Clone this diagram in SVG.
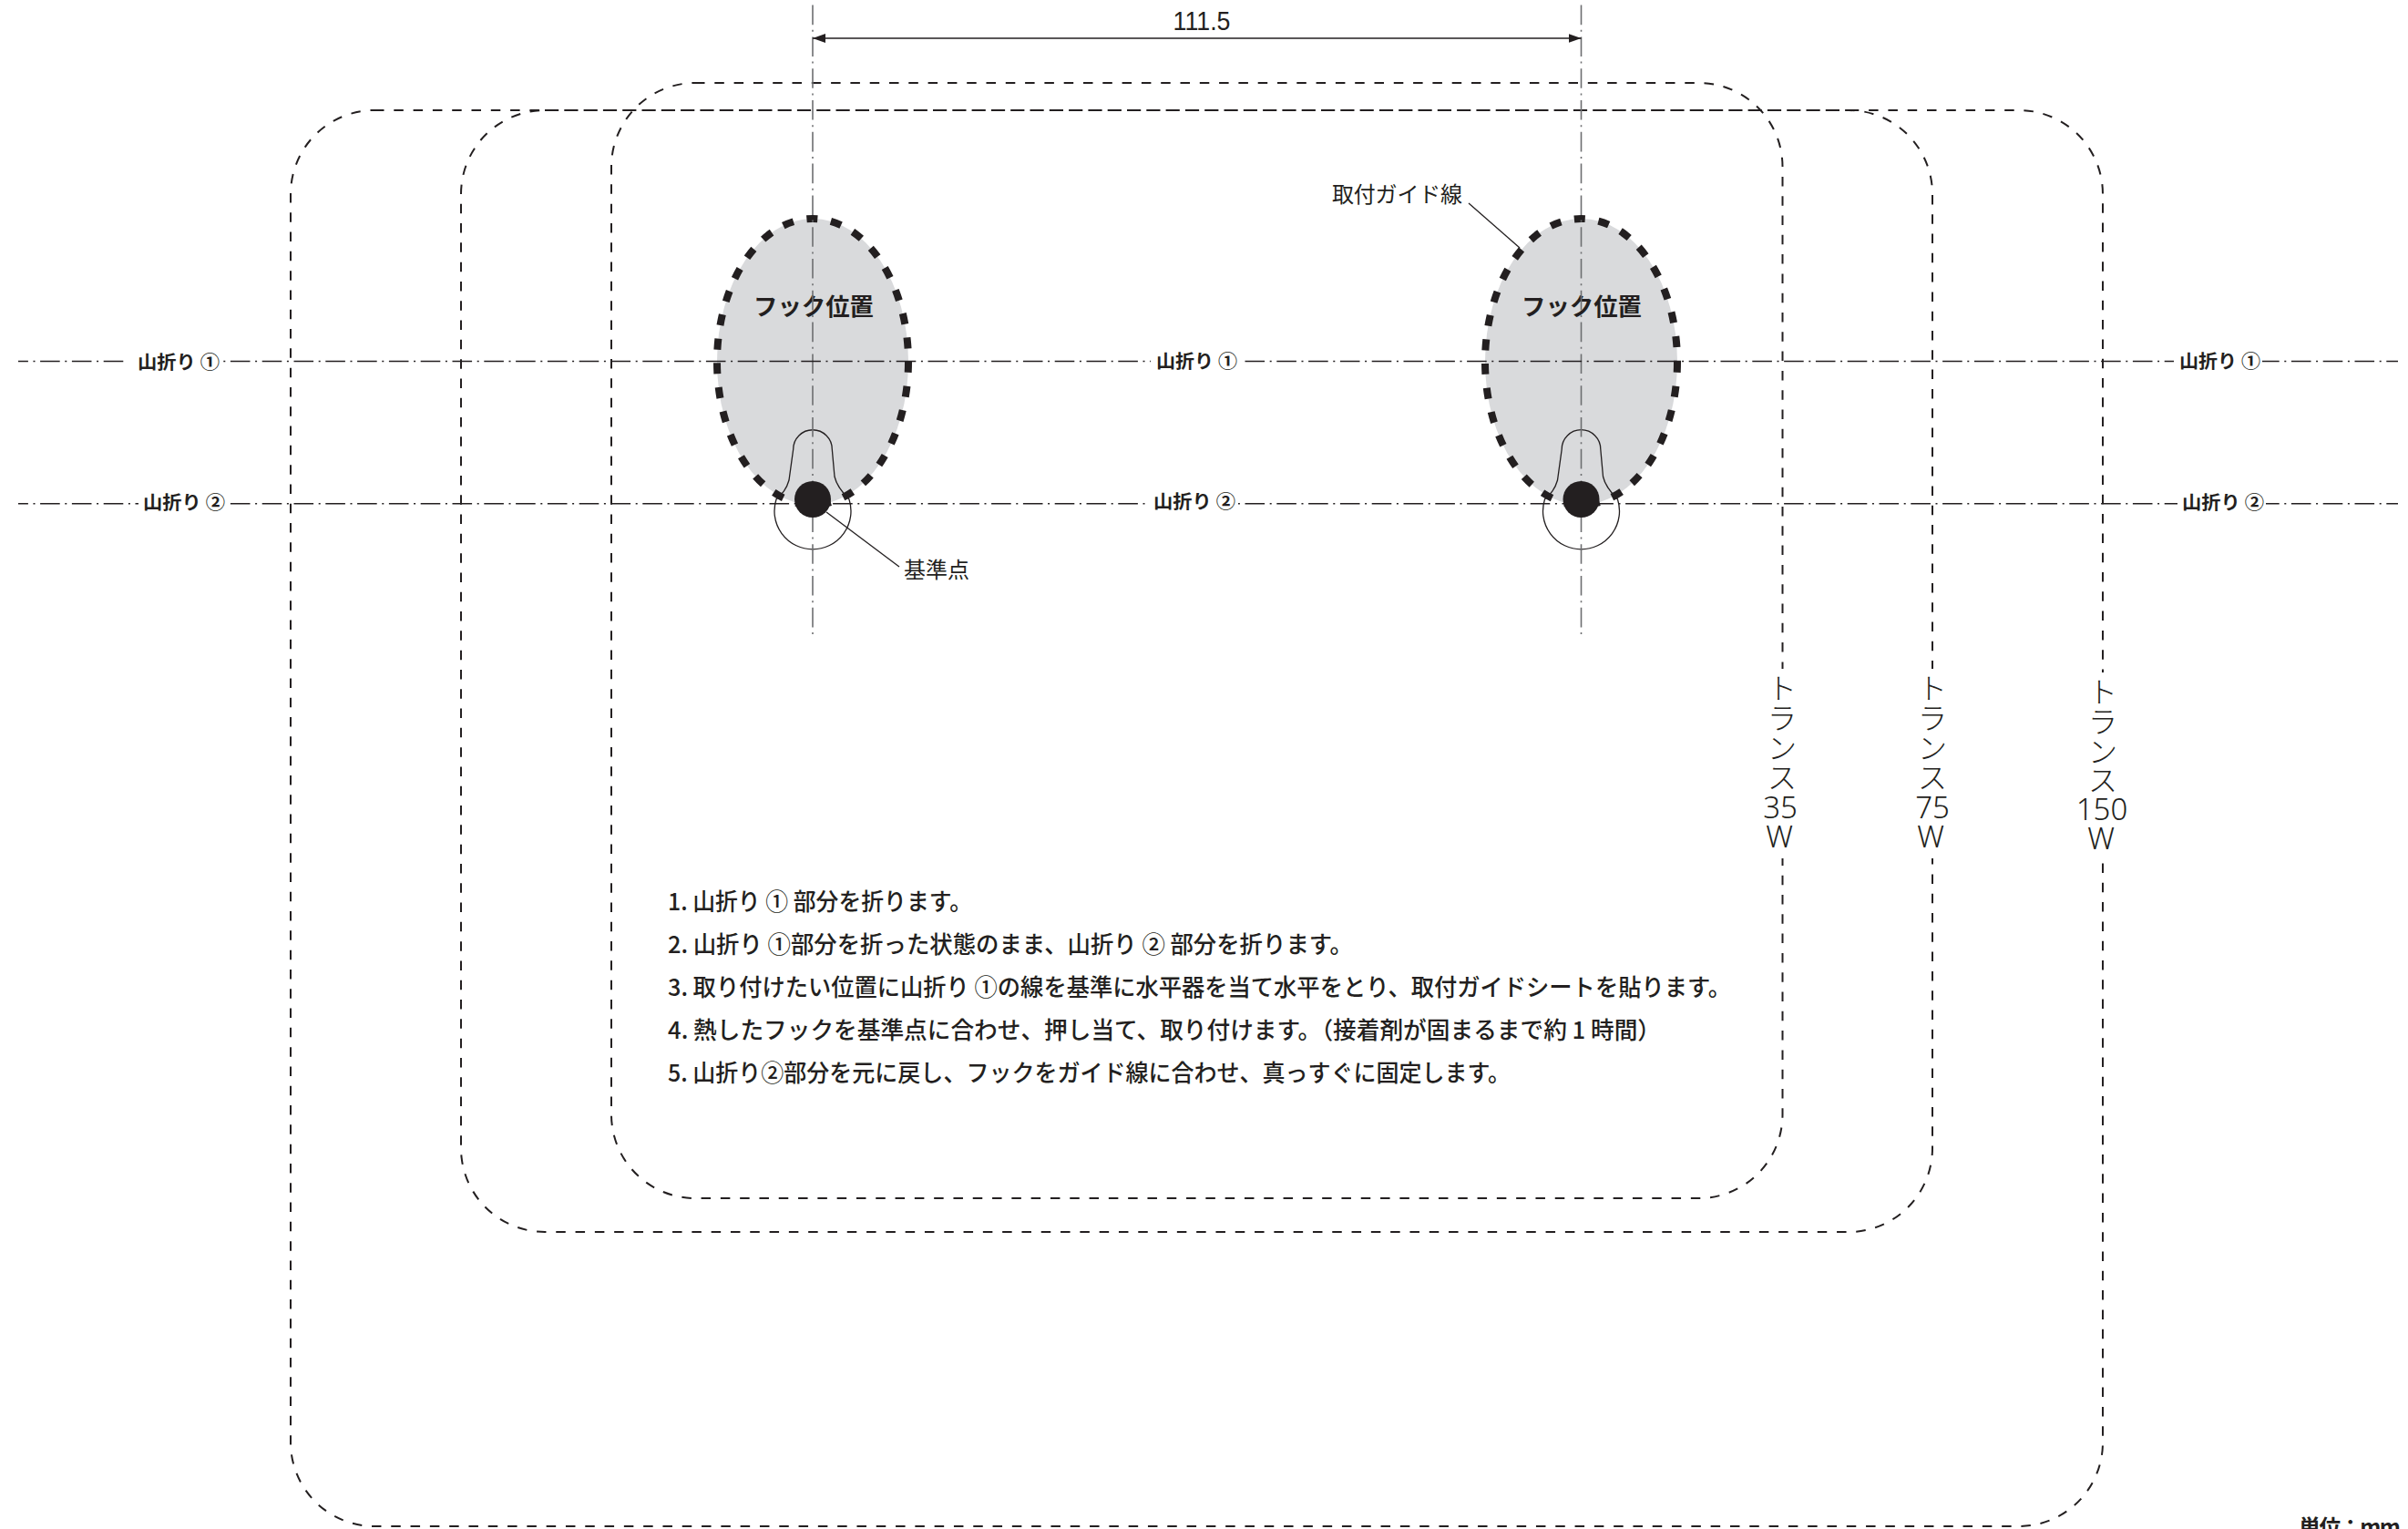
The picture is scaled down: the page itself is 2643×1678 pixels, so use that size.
<svg xmlns="http://www.w3.org/2000/svg" width="2643" height="1678" viewBox="0 0 2643 1678">
<style>
text{font-family:"Noto Sans CJK JP","Noto Sans",sans-serif;fill:#231f20}
.sheet{fill:none;stroke:#231f20;stroke-width:2;stroke-dasharray:10.5 10.8}
.fold{fill:none;stroke:#231f20;stroke-width:1.6;stroke-dasharray:21.6 5.6 2 5.6;stroke-dashoffset:10.7}
.axis{fill:none;stroke:#6d6e71;stroke-width:1.6;stroke-dasharray:21.6 5.6 2 5.6;stroke-dashoffset:-5.6}
.guide{fill:#d9dadc;stroke:#231f20;stroke-width:8;stroke-dasharray:12 14.8}
.outline{fill:none;stroke:#231f20;stroke-width:1.3}
.lead{fill:none;stroke:#231f20;stroke-width:1.3}
.mask{fill:#fff}
.f{font-size:20px;font-weight:700}
.h{font-size:26px;font-weight:700}
.c{font-size:24px;font-weight:400}
.s{font-size:26px;font-weight:500}
.v{font-size:32px;font-weight:300;text-anchor:middle}
.n{font-family:"Noto Sans",sans-serif;font-size:33px;font-weight:300}
</style>
<defs>
<marker id="ah" markerUnits="userSpaceOnUse" markerWidth="15" markerHeight="10" refX="14" refY="5" orient="auto-start-reverse"><path d="M0 0L14 5L0 10Z" fill="#231f20"/></marker>
</defs>
<g id="sheet-150w"><rect class="sheet" x="319" y="121" width="1989" height="1554" rx="92" ry="92"/></g>
<g id="sheet-75w"><rect class="sheet" x="506" y="121" width="1615" height="1231" rx="92" ry="92"/></g>
<g id="sheet-35w"><rect class="sheet" x="671" y="91" width="1285.5" height="1224" rx="92" ry="92"/></g>
<g id="hook-left">
<ellipse class="guide" cx="892" cy="397" rx="105" ry="157"/>
<path class="outline" d="M852 548C857 543 863 538 866 527L870.7 493A21.3 21.3 0 0 1 913.3 493L916 523C918 532 924 540 932 548A42 42 0 1 1 852 548Z"/>
<text class="h" x="827" y="346" textLength="132" lengthAdjust="spacingAndGlyphs">フック位置</text>
</g>
<g id="hook-right">
<ellipse class="guide" cx="1735.5" cy="397" rx="105.5" ry="157"/>
<path class="outline" d="M1695.5 548C1700.5 543 1706.5 538 1709.5 527L1714.2 493A21.3 21.3 0 0 1 1756.8 493L1759.5 523C1761.5 532 1767.5 540 1775.5 548A42 42 0 1 1 1695.5 548Z"/>
<text class="h" x="1670" y="346" textLength="132" lengthAdjust="spacingAndGlyphs">フック位置</text>
</g>
<g id="connectors">
<line class="axis" x1="892" y1="0" x2="892" y2="697"/>
<line class="axis" x1="1735.5" y1="0" x2="1735.5" y2="697"/>
<line class="fold" x1="20" y1="396.5" x2="2632" y2="396.5"/>
<line class="fold" x1="20" y1="552.7" x2="2632" y2="552.7"/>
<line x1="892" y1="42" x2="1735.5" y2="42" stroke="#231f20" stroke-width="1.6" marker-start="url(#ah)" marker-end="url(#ah)"/>
<line class="lead" x1="907" y1="562" x2="987" y2="622"/>
<line class="lead" x1="1612" y1="223" x2="1668" y2="272"/>
</g>
<g id="base-left"><circle cx="892" cy="548" r="20" fill="#231f20"/></g>
<g id="base-right"><circle cx="1735.5" cy="548" r="20" fill="#231f20"/></g>
<g id="fold-labels">
<rect class="mask" x="137" y="385" width="105" height="24"/>
<rect class="mask" x="152" y="541" width="99" height="24"/>
<rect class="mask" x="1263" y="385" width="98" height="24"/>
<rect class="mask" x="1262" y="541" width="97" height="24"/>
<rect class="mask" x="2386" y="385" width="97" height="24"/>
<rect class="mask" x="2390" y="541" width="97" height="24"/>
<text class="f" x="151" y="405" textLength="90" lengthAdjust="spacingAndGlyphs">山折り ①</text>
<text class="f" x="157" y="559" textLength="90" lengthAdjust="spacingAndGlyphs">山折り ②</text>
<text class="f" x="1269" y="404" textLength="89" lengthAdjust="spacingAndGlyphs">山折り ①</text>
<text class="f" x="1266" y="558" textLength="90" lengthAdjust="spacingAndGlyphs">山折り ②</text>
<text class="f" x="2392" y="404" textLength="89" lengthAdjust="spacingAndGlyphs">山折り ①</text>
<text class="f" x="2395" y="559" textLength="90" lengthAdjust="spacingAndGlyphs">山折り ②</text>
</g>
<g id="callouts">
<text class="c" x="992" y="634" textLength="72">基準点</text>
<text class="c" x="1462" y="222" textLength="143">取付ガイド線</text>
<text x="1319" y="33" text-anchor="middle" style="font-family:'Liberation Sans',sans-serif;font-size:30px" textLength="63" lengthAdjust="spacingAndGlyphs">111.5</text>
</g>
<g id="label-35w">
<rect class="mask" x="1935" y="734" width="44" height="208"/>
<text class="v"><tspan x="1956" y="767">ト</tspan><tspan x="1956" y="800">ラ</tspan><tspan x="1956" y="833">ン</tspan><tspan x="1956" y="865">ス</tspan><tspan class="n" x="1954" y="898">35</tspan><tspan class="n" x="1953" y="930">W</tspan></text>
</g>
<g id="label-75w">
<rect class="mask" x="2100" y="734" width="44" height="208"/>
<text class="v"><tspan x="2121" y="767">ト</tspan><tspan x="2121" y="800">ラ</tspan><tspan x="2121" y="833">ン</tspan><tspan x="2121" y="865">ス</tspan><tspan class="n" x="2121" y="898">75</tspan><tspan class="n" x="2119" y="930">W</tspan></text>
</g>
<g id="label-150w">
<rect class="mask" x="2282" y="738" width="52" height="204"/>
<text class="v"><tspan x="2308" y="771">ト</tspan><tspan x="2308" y="804">ラ</tspan><tspan x="2308" y="837">ン</tspan><tspan x="2308" y="868">ス</tspan><tspan class="n" x="2307" y="900">150</tspan><tspan class="n" x="2306" y="932">W</tspan></text>
</g>
<g id="instructions">
<text class="s" x="733" y="999" textLength="334" lengthAdjust="spacingAndGlyphs">1. 山折り ① 部分を折ります。</text>
<text class="s" x="733" y="1046" textLength="752" lengthAdjust="spacingAndGlyphs">2. 山折り ①部分を折った状態のまま、山折り ② 部分を折ります。</text>
<text class="s" x="733" y="1093" textLength="1167" lengthAdjust="spacingAndGlyphs">3. 取り付けたい位置に山折り ①の線を基準に水平器を当て水平をとり、取付ガイドシートを貼ります。</text>
<text class="s" x="733" y="1140" textLength="1090" lengthAdjust="spacingAndGlyphs">4. 熱したフックを基準点に合わせ、押し当て、取り付けます。（接着剤が固まるまで約 1 時間）</text>
<text class="s" x="733" y="1187" textLength="925" lengthAdjust="spacingAndGlyphs">5. 山折り②部分を元に戻し、フックをガイド線に合わせ、真っすぐに固定します。</text>
</g>
<g id="unit"><text x="2523" y="1685" style="font-size:24px;font-weight:700" textLength="112">単位：mm</text></g>
</svg>
